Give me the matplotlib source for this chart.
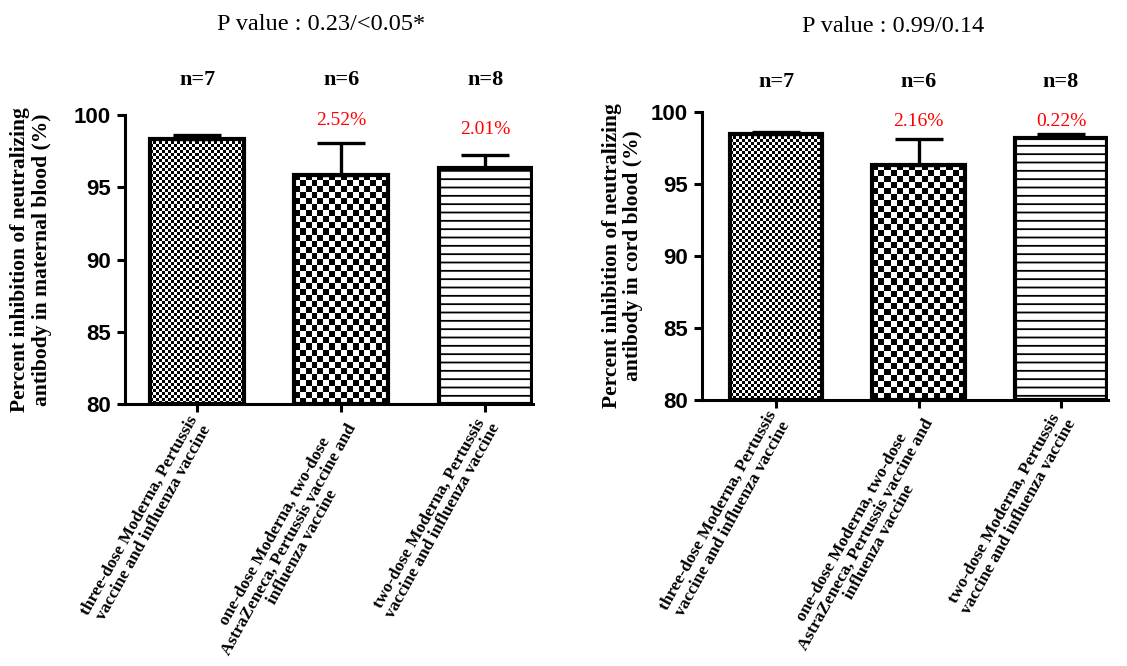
import numpy as np
import matplotlib
matplotlib.use("Agg")
import matplotlib.pyplot as plt
from matplotlib.transforms import ScaledTranslation

# ---- data ----
groups = [
    "three-dose Moderna, Pertussis\nvaccine and influenza vaccine",
    "one-dose Moderna, two-dose\nAstraZeneca, Pertussis vaccine and\ninfluenza vaccine",
    "two-dose Moderna, Pertussis\nvaccine and influenza vaccine",
]
n_labels = ["n=7", "n=6", "n=8"]

maternal_mean = [98.35, 95.85, 96.35]
maternal_err = [0.25, 2.2, 0.9]
maternal_pct = ["", "2.52%", "2.01%"]
maternal_pct_y = [None, 99.6, 99.0]

cord_mean = [98.45, 96.3, 98.2]
cord_err = [0.15, 1.8, 0.25]
cord_pct = ["", "2.16%", "0.22%"]
cord_pct_y = [None, 99.3, 99.3]

p_titles = ["P value : 0.23/<0.05*", "P value : 0.99/0.14"]
ylabels = [
    "Percent inhibition of neutralizing\nantibody in maternal blood (%)",
    "Percent inhibition of neutralizing\nantibody in cord blood (%)",
]
yticks = [80, 85, 90, 95, 100]

SERIF = "Liberation Serif"
SANS = "Liberation Sans"

W, H = 1127, 666
DPI = 100
fig = plt.figure(figsize=(W / DPI, H / DPI), dpi=DPI)
plt.rcParams["hatch.linewidth"] = 1.3

panels = [
    dict(rect=[125 / W, 1 - 404 / H, (533 - 125) / W, 289 / H], xlim=(-0.5, 2.33),
         mean=maternal_mean, err=maternal_err, pct=maternal_pct, pct_y=maternal_pct_y,
         title=p_titles[0], title_xy=(321 / W, 1 - 24 / H), n_y=1 - 80 / H,
         ylabel=ylabels[0], ylab_x=-0.18),
    dict(rect=[702 / W, 1 - 399.5 / H, (1108 - 702) / W, 287.6 / H], xlim=(-0.52, 2.33),
         mean=cord_mean, err=cord_err, pct=cord_pct, pct_y=cord_pct_y,
         title=p_titles[1], title_xy=(893 / W, 1 - 27 / H), n_y=1 - 82 / H,
         ylabel=ylabels[1], ylab_x=-0.145),
]

width = 0.65
x = np.arange(len(groups))


def checker(cells_x, cells_y):
    yy, xx = np.mgrid[0:cells_y, 0:cells_x]
    return ((xx + yy) % 2).astype(float)


for p in panels:
    ax = fig.add_axes(p["rect"])
    ax.set_xlim(*p["xlim"])
    ax.set_ylim(80, 100)

    bars = ax.bar(x, [m - 80 for m in p["mean"]], bottom=80, width=width,
                  facecolor="none", edgecolor="black", linewidth=3.0, zorder=4)
    # horizontal-line fill for the third group
    bars[2].set_facecolor("white")
    bars[2].set_hatch("--")

    ax.errorbar(x, p["mean"], yerr=[[0] * 3, p["err"]], fmt="none",
                ecolor="black", elinewidth=2.4, capsize=17, capthick=2.4, zorder=3)

    # checkerboard fills for the first two groups (square size in pixels)
    fig.canvas.draw()
    for i, cell_px in [(0, 3.0), (1, 6.0)]:
        b = bars[i]
        x0, y0 = b.get_x(), b.get_y()
        x1, y1 = x0 + b.get_width(), y0 + b.get_height()
        (px0, py0), (px1, py1) = ax.transData.transform([(x0, y0), (x1, y1)])
        cx = max(1, int(round((px1 - px0) / cell_px)))
        cy = max(1, int(round((py1 - py0) / cell_px)))
        im = ax.imshow(checker(cx, cy), extent=(x0, x1, y0, y1), cmap="gray",
                       vmin=0, vmax=1, interpolation="nearest", aspect="auto", zorder=2)
        im.set_clip_path(b)
    ax.set_xlim(*p["xlim"])
    ax.set_ylim(80, 100)

    # spines and ticks
    for s in ["top", "right"]:
        ax.spines[s].set_visible(False)
    for s in ["left", "bottom"]:
        ax.spines[s].set_linewidth(2.2)
    ax.set_yticks(yticks)
    ax.set_yticklabels([str(t) for t in yticks], fontfamily=SANS, fontweight="bold",
                       fontsize=16)
    ax.tick_params(axis="both", direction="out", length=6, width=2.2)
    ax.tick_params(axis="y", pad=4)
    ax.set_xticks(x)
    ax.set_xticklabels([])

    # rotated category labels, anchored just below each tick
    lab_tf = ax.get_xaxis_transform() + ScaledTranslation(-10 / DPI, -9 / DPI,
                                                          fig.dpi_scale_trans)
    for xi, g in zip(x, groups):
        ax.text(xi, 0, g, transform=lab_tf, rotation=61, ha="right", va="top",
                rotation_mode="anchor", multialignment="center",
                fontfamily=SERIF, fontweight="bold", fontsize=12.5,
                linespacing=1.0, clip_on=False)

    ax.set_ylabel(p["ylabel"], fontfamily=SERIF, fontweight="bold", fontsize=15.5,
                  linespacing=1.1)
    ax.yaxis.set_label_coords(p["ylab_x"], 0.5)

    # red percentage annotations
    for xi, txt, yy in zip(x, p["pct"], p["pct_y"]):
        if txt:
            ax.text(xi, yy, txt, color="red", fontfamily=SERIF, fontsize=14,
                    ha="center", va="center")

    # group sizes above the panel
    for xi, nl in zip(x, n_labels):
        fx = fig.transFigure.inverted().transform(ax.transData.transform((xi, 90)))[0]
        fig.text(fx, p["n_y"], nl, fontfamily=SERIF, fontweight="bold", fontsize=16,
                 ha="center", va="center")

    fig.text(p["title_xy"][0], p["title_xy"][1], p["title"], fontfamily=SERIF,
             fontsize=17.5, ha="center", va="center")

fig.savefig("out.png", dpi=DPI, facecolor="white")
